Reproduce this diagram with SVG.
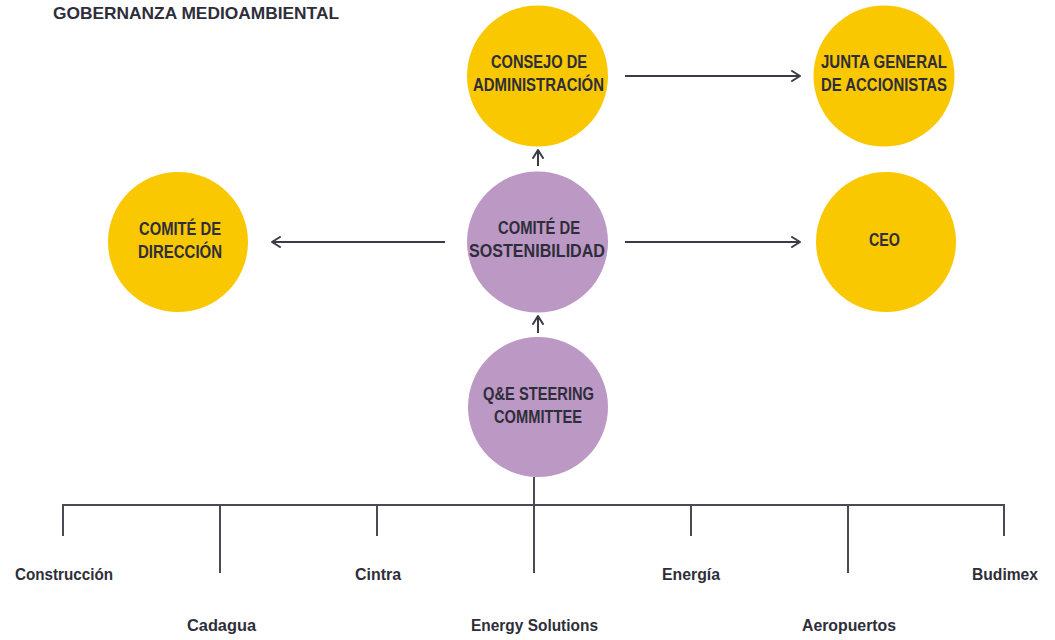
<svg xmlns="http://www.w3.org/2000/svg" width="1055" height="640" viewBox="0 0 1055 640">
<defs>
<marker id="chev" viewBox="0 0 10 12" refX="9" refY="6" markerWidth="10" markerHeight="12" markerUnits="userSpaceOnUse" orient="auto">
<path d="M1,1 L9,6 L1,11" fill="none" stroke="#3a3a48" stroke-width="2" stroke-linecap="round" stroke-linejoin="round"/>
</marker>
<style>
.t{font-family:"Liberation Sans",Arial,sans-serif;font-weight:bold;fill:#2e2e3a;text-anchor:middle}
.n{font-size:18px}
.s{font-size:16px}
.y{fill:#F9C800}
.p{fill:#BC98C5}
.c{stroke:#3a3a48;stroke-width:2;fill:none}
.tr{stroke:#4a4a55;stroke-width:2;fill:none}
</style>
</defs>
<rect width="1055" height="640" fill="#ffffff"/>
<text class="t" x="196" y="19" font-size="17" textLength="286" lengthAdjust="spacingAndGlyphs">GOBERNANZA MEDIOAMBIENTAL</text>

<g id="connectors">
<line class="c" x1="625" y1="76" x2="800" y2="76" marker-end="url(#chev)"/>
<line class="c" x1="445" y1="242" x2="272" y2="242" marker-end="url(#chev)"/>
<line class="c" x1="625" y1="242" x2="800" y2="242" marker-end="url(#chev)"/>
<line class="c" x1="538" y1="166" x2="538" y2="150" marker-end="url(#chev)"/>
<line class="c" x1="538" y1="333" x2="538" y2="316" marker-end="url(#chev)"/>
<g id="tree">
<line class="tr" x1="534" y1="477" x2="534" y2="573"/>
<line class="tr" x1="63" y1="505" x2="1004" y2="505"/>
<line class="tr" x1="63" y1="504" x2="63" y2="536"/>
<line class="tr" x1="220" y1="505" x2="220" y2="573"/>
<line class="tr" x1="377" y1="505" x2="377" y2="536"/>
<line class="tr" x1="691" y1="505" x2="691" y2="536"/>
<line class="tr" x1="848" y1="505" x2="848" y2="573"/>
<line class="tr" x1="1004" y1="504" x2="1004" y2="536"/>
</g>
</g>

<g id="consejo">
<circle class="y" cx="537.5" cy="76" r="70.5"/>
<text class="t n" x="539" y="68" textLength="96" lengthAdjust="spacingAndGlyphs">CONSEJO DE</text>
<text class="t n" x="538.5" y="91" textLength="131" lengthAdjust="spacingAndGlyphs">ADMINISTRACIÓN</text>
</g>
<g id="junta">
<circle class="y" cx="884" cy="76" r="70.5"/>
<text class="t n" x="884" y="68" textLength="126" lengthAdjust="spacingAndGlyphs">JUNTA GENERAL</text>
<text class="t n" x="884" y="91" textLength="126" lengthAdjust="spacingAndGlyphs">DE ACCIONISTAS</text>
</g>
<g id="direccion">
<circle class="y" cx="178" cy="242" r="70"/>
<text class="t n" x="180" y="235" textLength="82" lengthAdjust="spacingAndGlyphs">COMITÉ DE</text>
<text class="t n" x="180" y="258" textLength="84" lengthAdjust="spacingAndGlyphs">DIRECCIÓN</text>
</g>
<g id="sostenibilidad">
<circle class="p" cx="537.5" cy="242" r="70.5"/>
<text class="t n" x="539" y="234" textLength="82" lengthAdjust="spacingAndGlyphs">COMITÉ DE</text>
<text class="t n" x="537" y="257" textLength="136" lengthAdjust="spacingAndGlyphs">SOSTENIBILIDAD</text>
</g>
<g id="ceo">
<circle class="y" cx="886" cy="242" r="70"/>
<text class="t n" x="884.5" y="246" textLength="31" lengthAdjust="spacingAndGlyphs">CEO</text>
</g>
<g id="qe">
<circle class="p" cx="538" cy="407" r="70"/>
<text class="t n" x="538.5" y="400" textLength="111" lengthAdjust="spacingAndGlyphs">Q&amp;E STEERING</text>
<text class="t n" x="538" y="423" textLength="88" lengthAdjust="spacingAndGlyphs">COMMITTEE</text>
</g>

<g id="labels">
<text class="t s" x="64" y="580" textLength="98" lengthAdjust="spacingAndGlyphs">Construcción</text>
<text class="t s" x="378" y="580" textLength="46" lengthAdjust="spacingAndGlyphs">Cintra</text>
<text class="t s" x="691" y="580" textLength="58" lengthAdjust="spacingAndGlyphs">Energía</text>
<text class="t s" x="1005" y="580" textLength="66" lengthAdjust="spacingAndGlyphs">Budimex</text>
<text class="t s" x="221.5" y="631" textLength="69" lengthAdjust="spacingAndGlyphs">Cadagua</text>
<text class="t s" x="534.5" y="631" textLength="127" lengthAdjust="spacingAndGlyphs">Energy Solutions</text>
<text class="t s" x="849" y="631" textLength="94" lengthAdjust="spacingAndGlyphs">Aeropuertos</text>
</g>
</svg>
